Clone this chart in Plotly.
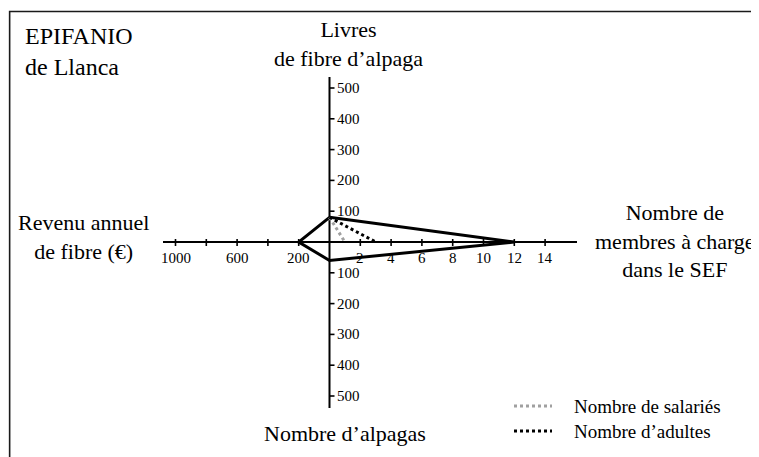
import plotly.graph_objects as go

# ---------------- data ----------------
axis_titles = ["Livres<br>de fibre d\u2019alpaga",
               "Nombre de<br>membres \u00e0 charge<br>dans le SEF",
               "Nombre d\u2019alpagas",
               "Revenu annuel<br>de fibre (\u20ac)"]
farm_name = "EPIFANIO<br>de Llanca"

fibre_lbs = 80          # Livres de fibre d'alpaga (haut)
members = 12            # Nombre de membres à charge (droite)
alpacas = 60            # Nombre d'alpagas (bas)
revenue = 200           # Revenu annuel de fibre, € (gauche)

series_names = ["Nombre de salari\u00e9s", "Nombre d\u2019adultes"]
series_values = [1, 3]
series_colors = ["#a0a0a0", "#000000"]

fibre_ticks = [100, 200, 300, 400, 500]
alpaca_ticks = [100, 200, 300, 400, 500]
member_ticks = [2, 4, 6, 8, 10, 12, 14]
revenue_ticks = [200, 400, 600, 800, 1000]
revenue_tick_labels = ["200", "", "600", "", "1000"]

# ---------------- geometry ----------------
W, H = 759, 457
PAGE_OFF = 8.0          # default page margin around the figure
OX, OY = 329.5, 242.0   # origin in screen pixels
U = 30.8                # pixels per scale unit
FONT = "Liberation Serif"

# scale functions for the four half-axes
def sx_members(v): return v / 2.0
def sx_revenue(v): return -v / 200.0
def sy_fibre(v): return v / 100.0
def sy_alpaca(v): return -v / 100.0

def dx(px): return (px - OX) / U      # screen pixel x -> data x
def dy(py): return (OY - py) / U      # screen pixel y -> data y

fig = go.Figure()

# axes lines
fig.add_trace(go.Scatter(x=[dx(163), dx(577)], y=[0, 0], mode="lines",
                         line=dict(color="black", width=2), hoverinfo="skip", showlegend=False))
fig.add_trace(go.Scatter(x=[0, 0], y=[dy(77), dy(408)], mode="lines",
                         line=dict(color="black", width=2), hoverinfo="skip", showlegend=False))

# tick marks
tx, ty = [], []
for v in member_ticks:
    tx += [sx_members(v), sx_members(v), None]; ty += [3 / U, -4 / U, None]
for v in revenue_ticks:
    tx += [sx_revenue(v), sx_revenue(v), None]; ty += [3 / U, -4 / U, None]
for v in fibre_ticks:
    tx += [0, 5 / U, None]; ty += [sy_fibre(v), sy_fibre(v), None]
for v in alpaca_ticks:
    tx += [0, 5 / U, None]; ty += [sy_alpaca(v), sy_alpaca(v), None]
fig.add_trace(go.Scatter(x=tx, y=ty, mode="lines", line=dict(color="black", width=1.6),
                         hoverinfo="skip", showlegend=False))

# main polygon
top = (0, sy_fibre(fibre_lbs))
fig.add_trace(go.Scatter(
    x=[top[0], sx_members(members), 0, sx_revenue(revenue), top[0]],
    y=[top[1], 0, sy_alpaca(alpacas), 0, top[1]],
    mode="lines", line=dict(color="black", width=3), hoverinfo="skip", showlegend=False))

# dotted series
for name, val, col in zip(series_names, series_values, series_colors):
    fig.add_trace(go.Scatter(x=[top[0], sx_members(val)], y=[top[1], 0], mode="lines",
                             line=dict(color=col, width=3, dash="dot"),
                             name=name, hoverinfo="skip", showlegend=False))

# legend (drawn)
leg_y = [406, 431]
for name, col, ly in zip(series_names, series_colors, leg_y):
    fig.add_trace(go.Scatter(x=[dx(514), dx(552)], y=[dy(ly), dy(ly)], mode="lines",
                             line=dict(color=col, width=3, dash="dot"),
                             hoverinfo="skip", showlegend=False))

ann = []
tick_font = dict(family=FONT, size=15, color="black")
for v in member_ticks:
    ann.append(dict(x=sx_members(v), y=dy(258), text=str(v), showarrow=False,
                    xanchor="center", yanchor="middle", font=tick_font))
for v, lab in zip(revenue_ticks, revenue_tick_labels):
    if lab:
        ann.append(dict(x=sx_revenue(v), y=dy(258), text=lab, showarrow=False,
                        xanchor="center", yanchor="middle", font=tick_font))
for v in fibre_ticks:
    ann.append(dict(x=dx(335), y=sy_fibre(v), text=str(v), showarrow=False,
                    xanchor="left", yanchor="middle", font=tick_font))
for v in alpaca_ticks:
    ann.append(dict(x=dx(335), y=sy_alpaca(v), text=str(v), showarrow=False,
                    xanchor="left", yanchor="middle", font=tick_font))

big = dict(family=FONT, size=22, color="black")
ann.append(dict(x=dx(348), y=dy(44), text=axis_titles[0], showarrow=False,
                xanchor="center", yanchor="middle", font=big))
ann.append(dict(x=dx(675), y=dy(241), text=axis_titles[1], showarrow=False,
                xanchor="center", yanchor="middle", font=big))
ann.append(dict(x=dx(345), y=dy(433), text=axis_titles[2], showarrow=False,
                xanchor="center", yanchor="middle", font=big))
ann.append(dict(x=dx(83), y=dy(237), text=axis_titles[3], showarrow=False,
                xanchor="center", yanchor="middle", font=big))
ann.append(dict(x=dx(23), y=dy(51), text=farm_name, showarrow=False, align="left",
                xanchor="left", yanchor="middle", font=dict(family=FONT, size=24, color="black")))
for name, ly in zip(series_names, leg_y):
    ann.append(dict(x=dx(572), y=dy(ly), text=name, showarrow=False,
                    xanchor="left", yanchor="middle", font=dict(family=FONT, size=19, color="black")))

# figure covers screen pixels PAGE_OFF .. PAGE_OFF+W
fig.update_layout(
    width=W, height=H, autosize=False,
    margin=dict(l=0, r=0, t=0, b=0),
    paper_bgcolor="white", plot_bgcolor="white",
    xaxis=dict(range=[dx(PAGE_OFF), dx(PAGE_OFF + W)], visible=False, fixedrange=True),
    yaxis=dict(range=[dy(PAGE_OFF + H), dy(PAGE_OFF)], visible=False, fixedrange=True),
    annotations=ann,
    shapes=[dict(type="rect", xref="paper", yref="paper",
                 x0=(8.5 - PAGE_OFF) / W + 0.0015, x1=1.02, y0=-0.02,
                 y1=1 - (11.5 - PAGE_OFF) / H,
                 line=dict(color="#1a1a1a", width=1.6))],
    showlegend=False,
)

fig.write_html("out.html")
